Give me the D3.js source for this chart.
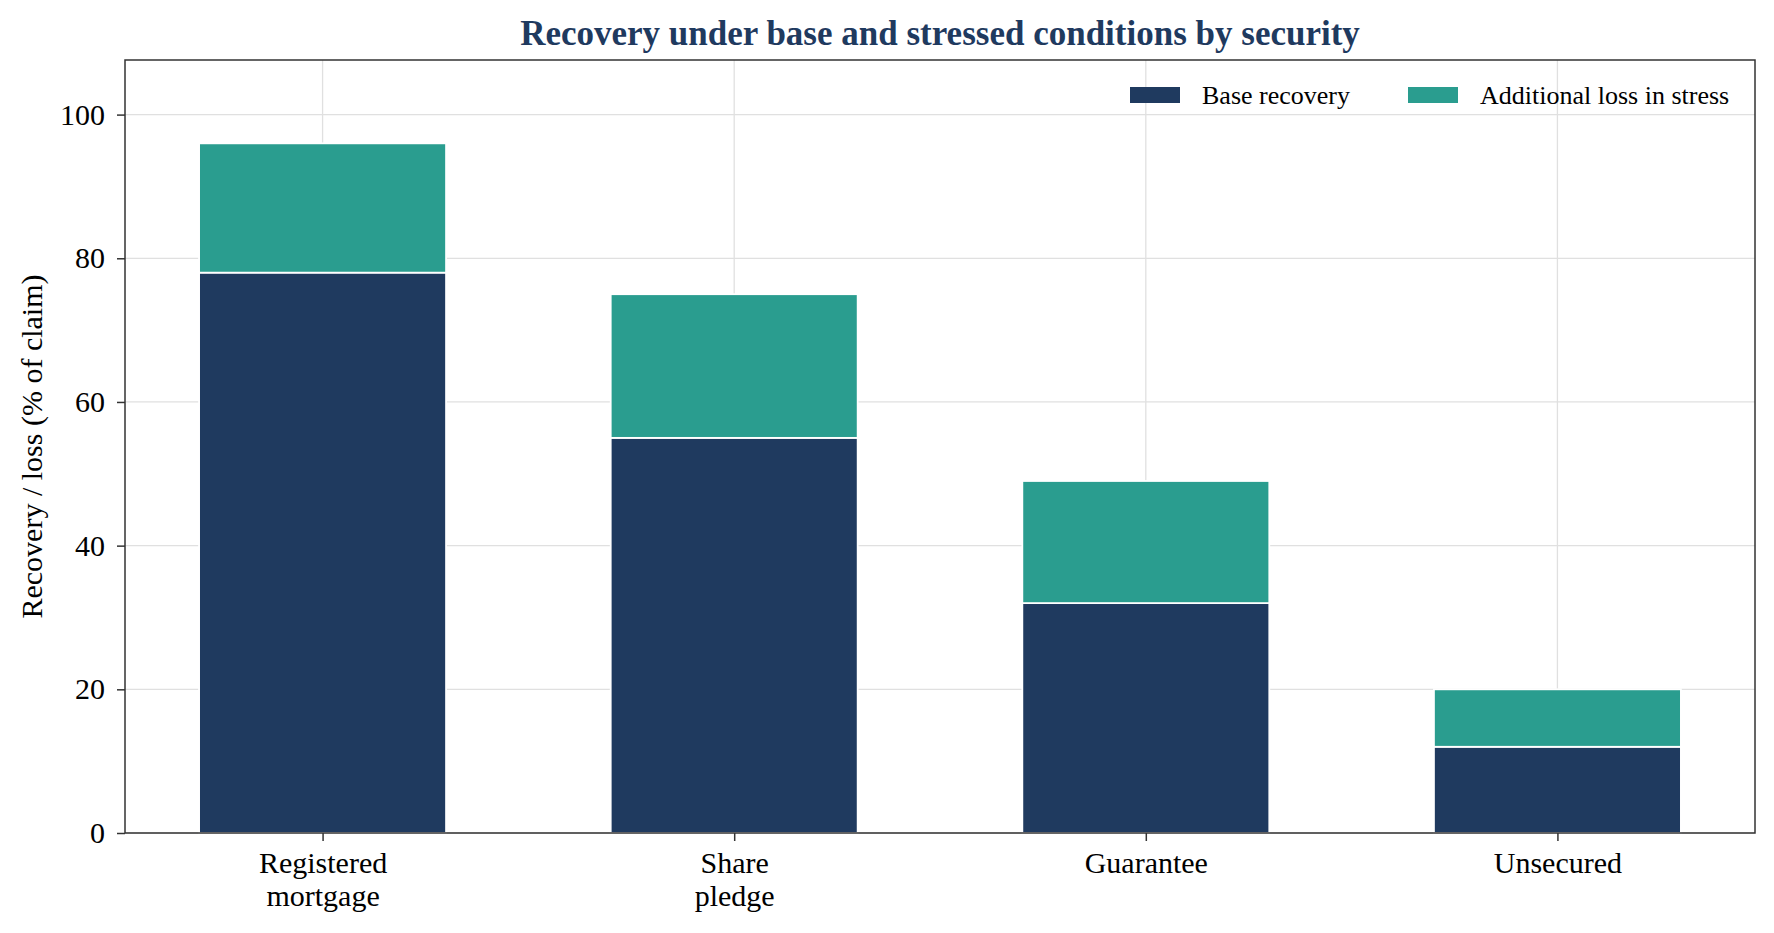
<!DOCTYPE html>
<html>
<head>
  <title>Recovery under base and stressed conditions</title>
  <script src="https://d3js.org/d3.v7.min.js"></script>
  <style>
    body { margin: 0; background: #fff; }
    text { font-family: "Liberation Serif", "Times New Roman", serif; fill: #000; }
    .grid line { stroke: #e0e0e0; stroke-width: 1.3px; }
    .axis path, .axis line { stroke: #333; stroke-width: 1.5px; }
    .axis text { font-size: 30px; }
  </style>
</head>
<body>
  <script>
    var categories = ["Registered\nmortgage", "Share\npledge", "Guarantee", "Unsecured"];
    var baseRecovery = [78, 55, 32, 12];
    var stressLoss = [18, 20, 17, 8];
    var seriesNames = ["Base recovery", "Additional loss in stress"];
    var yTicks = [0, 20, 40, 60, 80, 100];

    var width = 1774,
        height = 933,
        margin = {top: 60, right: 19, bottom: 100, left: 125};
    var colors = ["#1f3a5f", "#2a9d8f"];

    var svg = d3.select("body").append("svg")
        .attr("width", width)
        .attr("height", height);

    var x = d3.scaleLinear()
        .domain([-0.48, categories.length - 1 + 0.48])
        .range([margin.left, width - margin.right]);

    var y = d3.scaleLinear()
        .domain([0, 107.6])
        .range([height - margin.bottom, margin.top]);

    var barW = x(0.6) - x(0);

    // grid
    var grid = svg.append("g").attr("class", "grid");
    grid.selectAll(".gy").data(yTicks).enter().append("line")
        .attr("x1", x.range()[0]).attr("x2", x.range()[1])
        .attr("y1", function(d) { return y(d); })
        .attr("y2", function(d) { return y(d); });
    grid.selectAll(".gx").data(d3.range(categories.length)).enter().append("line")
        .attr("x1", function(d) { return x(d); })
        .attr("x2", function(d) { return x(d); })
        .attr("y1", y.range()[0]).attr("y2", y.range()[1]);

    // stacked bars
    var rows = categories.map(function(c, i) {
      return {i: i, base: baseRecovery[i], stress: stressLoss[i]};
    });
    var stack = d3.stack().keys(["base", "stress"])(rows);

    svg.append("g").selectAll("g").data(stack).enter().append("g")
        .attr("fill", function(d, k) { return colors[k]; })
      .selectAll("rect").data(function(d) { return d; }).enter().append("rect")
        .attr("x", function(d) { return x(d.data.i) - barW / 2; })
        .attr("width", barW)
        .attr("y", function(d) { return y(d[1]); })
        .attr("height", function(d) { return y(d[0]) - y(d[1]); })
        .attr("stroke", "#fff")
        .attr("stroke-width", 1.8);

    // axes
    var yAxis = svg.append("g").attr("class", "axis")
        .attr("transform", "translate(" + margin.left + ",0)")
        .call(d3.axisLeft(y).tickValues(yTicks).tickSize(8).tickPadding(12));
    yAxis.select(".domain").remove();

    var xAxis = svg.append("g").attr("class", "axis")
        .attr("transform", "translate(0," + (height - margin.bottom) + ")")
        .call(d3.axisBottom(x).tickValues(d3.range(categories.length)).tickSize(8).tickFormat(""));
    xAxis.select(".domain").remove();

    xAxis.selectAll(".tick").each(function(d) {
      var lines = categories[d].split("\n");
      var t = d3.select(this).append("text")
          .attr("text-anchor", "middle")
          .attr("y", 40)
          .style("font-size", "30px");
      lines.forEach(function(s, j) {
        t.append("tspan").attr("x", 0).attr("dy", j === 0 ? 0 : 33).text(s);
      });
    });

    // frame
    svg.append("rect")
        .attr("x", margin.left).attr("y", margin.top)
        .attr("width", width - margin.left - margin.right)
        .attr("height", height - margin.top - margin.bottom)
        .attr("fill", "none")
        .attr("stroke", "#333")
        .attr("stroke-width", 1.5);

    // title
    svg.append("text")
        .attr("x", (margin.left + width - margin.right) / 2)
        .attr("y", 45)
        .attr("text-anchor", "middle")
        .style("font-size", "35px")
        .style("font-weight", "bold")
        .style("fill", "#1f3a5f")
        .text("Recovery under base and stressed conditions by security");

    // y label
    svg.append("text")
        .attr("transform", "translate(42," + ((margin.top + height - margin.bottom) / 2) + ") rotate(-90)")
        .attr("text-anchor", "middle")
        .style("font-size", "30px")
        .text("Recovery / loss (% of claim)");

    // legend
    var legendX = [1130, 1408];
    var legend = svg.append("g").selectAll("g").data(seriesNames).enter().append("g")
        .attr("transform", function(d, i) { return "translate(" + legendX[i] + ",87)"; });
    legend.append("rect")
        .attr("width", 50).attr("height", 16)
        .attr("fill", function(d, i) { return colors[i]; });
    legend.append("text")
        .attr("x", 72).attr("y", 17)
        .style("font-size", "26px")
        .text(function(d) { return d; });
  </script>
</body>
</html>
